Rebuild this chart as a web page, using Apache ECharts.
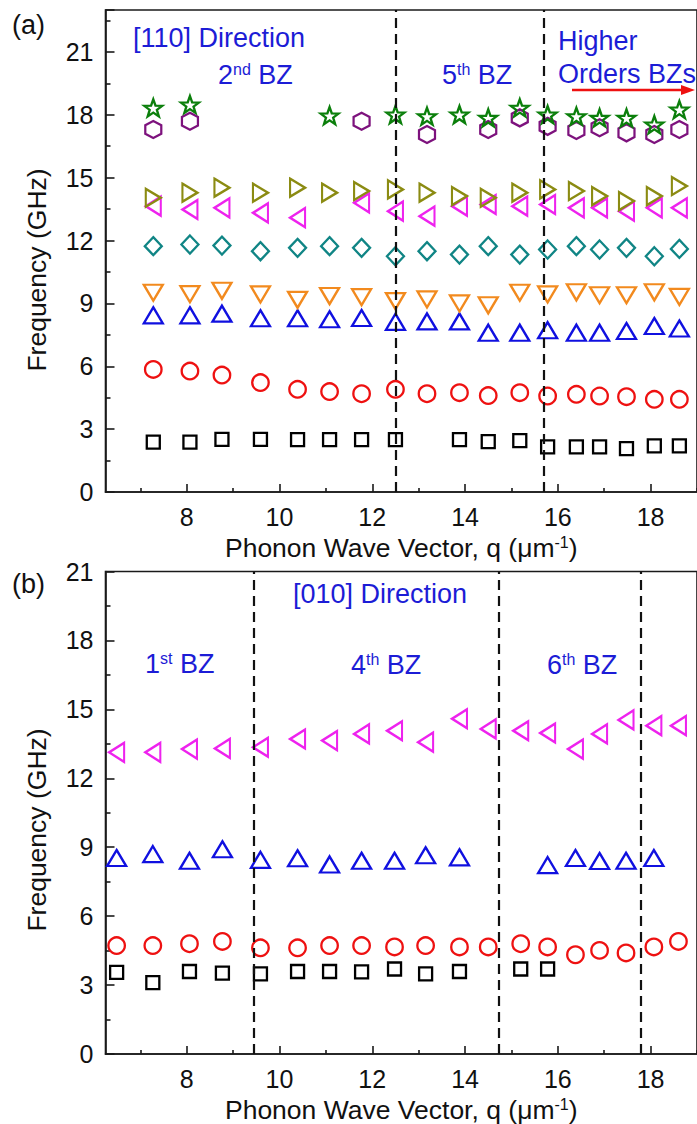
<!DOCTYPE html>
<html><head><meta charset="utf-8">
<script src="https://cdn.jsdelivr.net/npm/echarts@6.0.0/dist/echarts.min.js"></script>
<style>html,body{margin:0;padding:0;background:#fff;overflow:hidden}#c{width:697px;height:1124px}</style>
</head><body><div id="c"></div>
<script>
// ---------- Data: panel (a) [110] direction ----------
const qA = [7.28, 8.07, 8.76, 9.59, 10.39, 11.08, 11.77, 12.5, 13.18, 13.88, 14.5, 15.18, 15.78, 16.4, 16.9, 17.48, 18.08, 18.62];
const squaresA   = [2.38, 2.38, 2.51, 2.51, 2.5, 2.5, 2.5, 2.5, null, 2.5, 2.4, 2.45, 2.15, 2.15, 2.15, 2.07, 2.2, 2.2];
const circlesA   = [5.85, 5.77, 5.58, 5.22, 4.9, 4.79, 4.69, 4.9, 4.69, 4.74, 4.6, 4.74, 4.58, 4.66, 4.58, 4.55, 4.42, 4.42];
const upTriA     = [8.43, 8.43, 8.51, 8.29, 8.29, 8.24, 8.3, 8.12, 8.14, 8.14, 7.6, 7.6, 7.72, 7.6, 7.6, 7.68, 7.92, 7.8];
const downTriA   = [9.51, 9.44, 9.6, 9.43, 9.17, 9.35, 9.3, 9.11, 9.19, 9.0, 8.91, 9.51, 9.43, 9.53, 9.39, 9.39, 9.53, 9.31];
const diamondsA  = [11.73, 11.81, 11.76, 11.49, 11.65, 11.73, 11.65, 11.25, 11.49, 11.33, 11.73, 11.33, 11.57, 11.73, 11.57, 11.65, 11.25, 11.6];
const leftTriA   = [13.64, 13.48, 13.56, 13.32, 13.09, null, 13.8, 13.4, 13.16, 13.64, 13.72, 13.64, 13.72, 13.56, 13.56, 13.4, 13.56, 13.56];
const rightTriA  = [14.04, 14.28, 14.52, 14.28, 14.52, 14.28, 14.36, 14.44, 14.28, 14.12, 14.04, 14.28, 14.44, 14.36, 14.12, 13.88, 14.12, 14.6];
const hexagonsA  = [17.3, 17.69, null, null, null, null, 17.69, null, 17.06, null, 17.3, 17.85, 17.45, 17.25, 17.38, 17.14, 17.06, 17.3];
const starsA     = [18.33, 18.49, null, null, null, 17.96, null, 18.01, 17.93, 18.01, 17.85, 18.33, 18.01, 17.93, 17.85, 17.85, 17.53, 18.25];
const boundariesA = [12.5, 15.7];

// ---------- Data: panel (b) [010] direction ----------
const qB = [6.49, 7.27, 8.06, 8.77, 9.59, 10.39, 11.08, 11.77, 12.48, 13.15, 13.88, 14.5, 15.2, 15.78, 16.38, 16.9, 17.47, 18.07, 18.6];
const squaresB  = [3.55, 3.11, 3.59, 3.52, 3.49, 3.59, 3.59, 3.57, 3.7, 3.49, 3.59, null, 3.7, 3.7, null, null, null, null, null];
const circlesB  = [4.72, 4.72, 4.8, 4.9, 4.62, 4.62, 4.72, 4.72, 4.66, 4.72, 4.66, 4.66, 4.8, 4.66, 4.32, 4.51, 4.4, 4.66, 4.9];
const upTriB    = [8.53, 8.7, 8.41, 8.91, 8.45, 8.52, 8.25, 8.41, 8.41, 8.65, 8.56, null, null, 8.22, 8.53, 8.4, 8.41, 8.53, null];
const leftTriB  = [13.13, 13.13, 13.27, 13.3, 13.35, 13.71, 13.64, 13.93, 14.07, 13.57, 14.59, 14.15, 14.07, 13.97, 13.27, 13.93, 14.54, 14.29, 14.29];
const boundariesB = [9.45, 14.73, 17.79];

// ---------- Axis ticks ----------
const xMajorTicks = [8, 10, 12, 14, 16, 18];
const xMinorTicks = [7, 9, 11, 13, 15, 17, 19];
const yMinorTicksA = [1.5, 4.5, 7.5, 10.5, 13.5, 16.5, 19.5, 22.5];
const yMinorTicksB = [1.5, 4.5, 7.5, 10.5, 13.5, 16.5, 19.5];
const xRange = [6.25, 19];
const yMaxA = 23, yMaxB = 21;

// ---------- Styling ----------
const FONT = 'Liberation Sans, Arial, sans-serif';
const AXIS_COLOR = '#1a1a1a';
const TXT_BLUE = '#1c1cd6';
const SYM = {
  square: 'rect',
  circle: 'circle',
  up: 'path://M5,0 L10,8.66 L0,8.66 Z',
  down: 'path://M0,0 L10,0 L5,8.66 Z',
  diamond: 'diamond',
  left: 'path://M8.66,0 L8.66,10 L0,5 Z',
  right: 'path://M0,0 L8.66,5 L0,10 Z',
  hexagon: 'path://M5,0 L9.33,2.5 L9.33,7.5 L5,10 L0.67,7.5 L0.67,2.5 Z',
  star: 'path://M10,0 L12.35,6.76 L19.51,6.91 L13.8,11.24 L15.88,18.09 L10,14 L4.12,18.09 L6.2,11.24 L0.49,6.91 L7.65,6.76 Z'
};

function pairs(xs, ys) {
  const out = [];
  xs.forEach((x, i) => { if (ys[i] != null) out.push([x, ys[i]]); });
  return out;
}
function scatter(panel, xs, ys, sym, size, color, extra) {
  return Object.assign({
    type: 'scatter',
    xAxisIndex: panel * 2,
    yAxisIndex: panel * 2,
    data: pairs(xs, ys),
    symbol: SYM[sym],
    symbolSize: size,
    silent: true,
    animation: false,
    itemStyle: { color: 'rgba(0,0,0,0)', borderColor: color, borderWidth: 2.3, opacity: 1 },
    z: 3
  }, extra || {});
}
function boundaryLines(values) {
  return {
    silent: true,
    symbol: ['none', 'none'],
    label: { show: false },
    lineStyle: { color: '#111', width: 2.2, type: [10, 6] },
    emphasis: { disabled: true },
    animation: false,
    data: values.map(v => ({ xAxis: v }))
  };
}

const xTitle = {
  name: 'Phonon Wave Vector, q (μm{sup|-1})',
  nameLocation: 'middle',
  nameGap: 42,
  nameTextStyle: { fontFamily: FONT, fontSize: 26.5, color: '#111',
    rich: { sup: { fontFamily: FONT, fontSize: 16, color: '#111', verticalAlign: 'top' } } }
};

function mainX(grid) {
  return Object.assign({
    gridIndex: grid, type: 'value', min: xRange[0], max: xRange[1], position: 'bottom',
    axisLine: { show: true, onZero: false, lineStyle: { color: AXIS_COLOR, width: 1.6 } },
    axisTick: { show: true, inside: true, length: 8, customValues: xMajorTicks, lineStyle: { color: AXIS_COLOR, width: 1.6 } },
    axisLabel: { show: true, customValues: xMajorTicks, fontFamily: FONT, fontSize: 25, color: '#111', margin: 12 },
    splitLine: { show: false }
  }, xTitle);
}
function minorX(grid) {
  return {
    gridIndex: grid, type: 'value', min: xRange[0], max: xRange[1], position: 'bottom',
    axisLine: { show: false, onZero: false },
    axisTick: { show: true, inside: true, length: 4, customValues: xMinorTicks, lineStyle: { color: AXIS_COLOR, width: 1.6 } },
    axisLabel: { show: false },
    splitLine: { show: false }
  };
}
function mainY(grid, max) {
  return {
    gridIndex: grid, type: 'value', min: 0, max: max, interval: 3, position: 'left',
    axisLine: { show: true, onZero: false, lineStyle: { color: AXIS_COLOR, width: 1.6 } },
    axisTick: { show: true, inside: true, length: 9, lineStyle: { color: AXIS_COLOR, width: 1.6 } },
    axisLabel: { show: true, fontFamily: FONT, fontSize: 25, color: '#111', margin: 12,
      formatter: v => (v % 3 === 0 ? String(v) : '') },
    splitLine: { show: false }
  };
}
function minorY(grid, max, ticks) {
  return {
    gridIndex: grid, type: 'value', min: 0, max: max, position: 'left',
    axisLine: { show: false, onZero: false },
    axisTick: { show: true, inside: true, length: 5, customValues: ticks, lineStyle: { color: AXIS_COLOR, width: 1.6 } },
    axisLabel: { show: false },
    splitLine: { show: false }
  };
}

const blueText = (x, y, text) => ({
  type: 'text', x: x, y: y, silent: true,
  style: { text: text, fontFamily: FONT, fontSize: 27, fill: TXT_BLUE, align: 'left', verticalAlign: 'middle',
    rich: { sup: { fontFamily: FONT, fontSize: 16, fill: TXT_BLUE, verticalAlign: 'top' } } }
});

const chart = echarts.init(document.getElementById('c'), null, { renderer: 'svg' });
chart.setOption({
  animation: false,
  backgroundColor: '#fff',
  grid: [
    { left: 105.5, top: 10, width: 599.25, height: 482, show: true, borderColor: AXIS_COLOR, borderWidth: 1.6, containLabel: false },
    { left: 105.5, top: 571.5, width: 599.25, height: 482.5, show: true, borderColor: AXIS_COLOR, borderWidth: 1.6, containLabel: false }
  ],
  xAxis: [mainX(0), minorX(0), mainX(1), minorX(1)],
  yAxis: [mainY(0, yMaxA), minorY(0, yMaxA, yMinorTicksA), mainY(1, yMaxB), minorY(1, yMaxB, yMinorTicksB)],
  series: [
    scatter(0, qA, squaresA, 'square', 13, '#000000', { markLine: boundaryLines(boundariesA) }),
    scatter(0, qA, circlesA, 'circle', 16.5, '#ee1111'),
    scatter(0, qA, upTriA, 'up', [19, 16], '#1010e0'),
    scatter(0, qA, downTriA, 'down', [19, 16], '#f28a1e'),
    scatter(0, qA, diamondsA, 'diamond', [17, 18], '#108585'),
    scatter(0, qA, leftTriA, 'left', [15, 19], '#ee22ee'),
    scatter(0, qA, rightTriA, 'right', [15, 18], '#8b8b12'),
    scatter(0, qA, hexagonsA, 'hexagon', [16, 17], '#7d127d'),
    scatter(0, qA, starsA, 'star', [18, 17], '#0b7f0b'),
    scatter(1, qB, squaresB, 'square', 13, '#000000', { markLine: boundaryLines(boundariesB) }),
    scatter(1, qB, circlesB, 'circle', 16.5, '#ee1111'),
    scatter(1, qB, upTriB, 'up', [19, 16], '#1010e0'),
    scatter(1, qB, leftTriB, 'left', [15, 19], '#ee22ee')
  ],
  graphic: [
    { type: 'text', x: 12, y: 25, silent: true, style: { text: '(a)', fontFamily: FONT, fontSize: 27, fill: '#111', verticalAlign: 'middle' } },
    { type: 'text', x: 12, y: 584, silent: true, style: { text: '(b)', fontFamily: FONT, fontSize: 27, fill: '#111', verticalAlign: 'middle' } },
    { type: 'text', x: 37, y: 270, rotation: Math.PI / 2, silent: true,
      style: { text: 'Frequency (GHz)', fontFamily: FONT, fontSize: 26.5, fill: '#111', align: 'center', verticalAlign: 'middle' } },
    { type: 'text', x: 37, y: 830, rotation: Math.PI / 2, silent: true,
      style: { text: 'Frequency (GHz)', fontFamily: FONT, fontSize: 26.5, fill: '#111', align: 'center', verticalAlign: 'middle' } },
    blueText(133, 38, '[110] Direction'),
    blueText(218, 75, '2{sup|nd} BZ'),
    blueText(442, 75, '5{sup|th} BZ'),
    blueText(558, 41, 'Higher'),
    blueText(558, 74, 'Orders BZs'),
    { type: 'line', silent: true, shape: { x1: 572, y1: 90, x2: 684, y2: 90 }, style: { stroke: '#ee1111', lineWidth: 2.5 } },
    { type: 'polygon', silent: true, shape: { points: [[681, 85], [695, 90], [681, 95]] }, style: { fill: '#ee1111' } },
    blueText(293, 594, '[010] Direction'),
    blueText(145, 664, '1{sup|st} BZ'),
    blueText(351, 665, '4{sup|th} BZ'),
    blueText(547, 665, '6{sup|th} BZ')
  ]
});
</script>
</body></html>
